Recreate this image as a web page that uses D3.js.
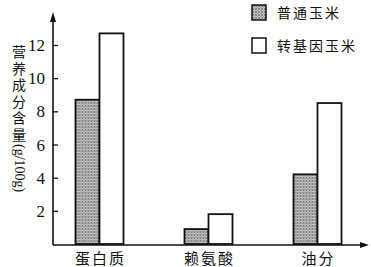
<!DOCTYPE html>
<html>
<head>
<meta charset="utf-8">
<script src="https://cdn.jsdelivr.net/npm/d3@7"></script>
<style>
  body { margin: 0; background: #fff; }
  text { fill: #111; }
</style>
</head>
<body>
<script>
// data
var categories = ["蛋白质", "赖氨酸", "油分"];
var seriesNames = ["普通玉米", "转基因玉米"];
var normalCorn = [8.7, 0.9, 4.2];
var gmCorn = [12.7, 1.8, 8.5];
var yTicks = [2, 4, 6, 8, 10, 12];

var width = 371, height = 267;
var svg = d3.select("body").append("svg")
    .attr("width", width)
    .attr("height", height);

// stipple pattern for the gray bars
var defs = svg.append("defs");
var pat = defs.append("pattern")
    .attr("id", "dots")
    .attr("width", 3).attr("height", 3)
    .attr("patternUnits", "userSpaceOnUse");
pat.append("rect").attr("width", 3).attr("height", 3).attr("fill", "#c8c8c8");
pat.append("circle").attr("cx", 1).attr("cy", 1).attr("r", 0.9).attr("fill", "#666");
pat.append("circle").attr("cx", 2.5).attr("cy", 2.5).attr("r", 0.5).attr("fill", "#888");

var x0 = 53, yBase = 244;

var y = d3.scaleLinear().domain([0, 12]).range([yBase, 45]);

var x = d3.scaleBand()
    .domain(categories)
    .range([45, 372]);

var xSub = d3.scaleBand()
    .domain(seriesNames)
    .range([0, 48]);

// bars
var rows = categories.map(function(c, i) {
  return { cat: c, vals: [normalCorn[i], gmCorn[i]] };
});

var groups = svg.selectAll("g.grp")
    .data(rows)
    .enter().append("g")
    .attr("class", "grp")
    .attr("transform", function(d) {
      return "translate(" + (x(d.cat) + x.bandwidth() / 2 - 24) + ",0)";
    });

groups.selectAll("rect")
    .data(function(d) { return d.vals.map(function(v, k) { return { v: v, s: seriesNames[k] }; }); })
    .enter().append("rect")
    .attr("x", function(d) { return xSub(d.s); })
    .attr("width", xSub.bandwidth())
    .attr("y", function(d) { return y(d.v); })
    .attr("height", function(d) { return yBase - y(d.v); })
    .attr("fill", function(d, k) { return k == 0 ? "url(#dots)" : "#fff"; })
    .attr("stroke", "#111")
    .attr("stroke-width", 1.8);

// y axis
var yAxis = d3.axisRight(y)
    .tickValues(yTicks)
    .tickSize(5)
    .tickFormat("");
var ya = svg.append("g")
    .attr("transform", "translate(" + x0 + ",0)")
    .call(yAxis);
ya.select(".domain").remove();
ya.selectAll("line").attr("stroke", "#111").attr("stroke-width", 1.3);

svg.selectAll("text.ytick")
    .data(yTicks)
    .enter().append("text")
    .attr("class", "ytick")
    .attr("x", 45)
    .attr("y", function(d) { return y(d) + 6; })
    .attr("text-anchor", "end")
    .style("font-family", "'Liberation Serif', 'DejaVu Serif', serif")
    .style("font-size", "17px")
    .text(function(d) { return d; });

// axis lines with arrows
svg.append("line")
    .attr("x1", x0).attr("y1", yBase + 1)
    .attr("x2", x0).attr("y2", 18)
    .attr("stroke", "#111").attr("stroke-width", 1.6);
svg.append("path")
    .attr("d", "M" + x0 + ",12 L" + (x0 - 3) + ",22 L" + (x0 + 3) + ",22 Z")
    .attr("fill", "#111");

svg.append("line")
    .attr("x1", x0).attr("y1", yBase + 1)
    .attr("x2", 362).attr("y2", yBase + 1)
    .attr("stroke", "#111").attr("stroke-width", 1.6);
svg.append("path")
    .attr("d", "M369," + (yBase + 1) + " L360," + (yBase - 2) + " L360," + (yBase + 4) + " Z")
    .attr("fill", "#111");

// category labels
svg.selectAll("text.cat")
    .data(categories)
    .enter().append("text")
    .attr("class", "cat")
    .attr("x", function(d) { return x(d) + x.bandwidth() / 2 + 1; })
    .attr("y", 264)
    .attr("text-anchor", "middle")
    .style("font-family", "'Noto Sans CJK SC', sans-serif")
    .style("font-size", "15px")
    .style("letter-spacing", "2px")
    .text(function(d) { return d; });

// y label, vertical writing mode
svg.append("text")
    .attr("x", 19)
    .attr("y", 45)
    .style("writing-mode", "vertical-rl")
    .style("font-family", "'Noto Sans CJK SC', sans-serif")
    .style("font-size", "14px")
    .style("letter-spacing", "2.5px")
    .text("营养成分含量")
  .append("tspan")
    .style("font-family", "'Liberation Serif', serif")
    .style("letter-spacing", "0px")
    .text("(g/100g)");

// legend
var legend = svg.selectAll("g.leg")
    .data(seriesNames)
    .enter().append("g")
    .attr("class", "leg")
    .attr("transform", function(d, i) { return "translate(252," + (5 + i * 33) + ")"; });
legend.append("rect")
    .attr("width", 14).attr("height", 15)
    .attr("fill", function(d, i) { return i == 0 ? "url(#dots)" : "#fff"; })
    .attr("stroke", "#111").attr("stroke-width", 1.5);
legend.append("text")
    .attr("x", 25).attr("y", 13)
    .style("font-family", "'Noto Sans CJK SC', sans-serif")
    .style("font-size", "14px")
    .style("letter-spacing", "2px")
    .text(function(d) { return d; });
</script>
</body>
</html>
